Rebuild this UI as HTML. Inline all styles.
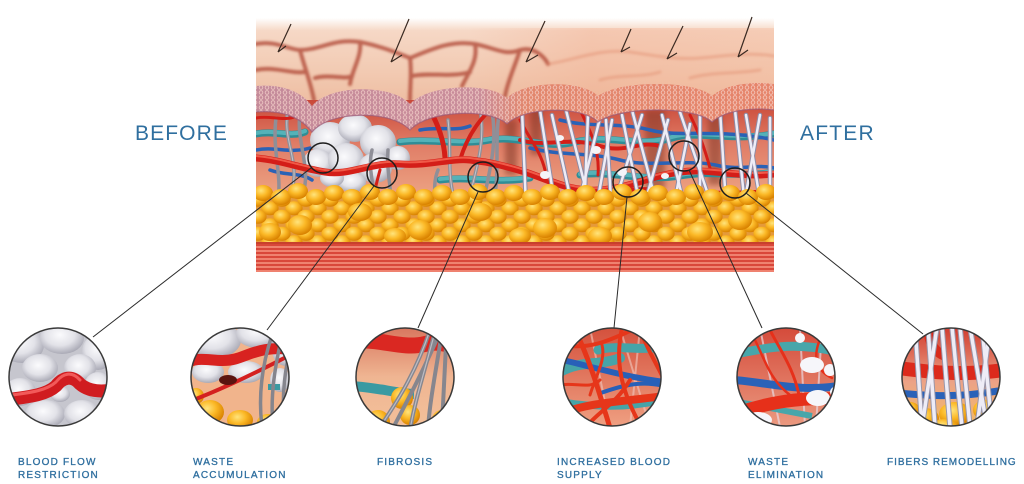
<!DOCTYPE html>
<html><head><meta charset="utf-8">
<style>
html,body{margin:0;padding:0;background:#fff;}
svg{display:block;}
text{font-family:"Liberation Sans",Arial,sans-serif;fill:#2f6f9f;}
</style></head><body>
<svg width="1024" height="484" viewBox="0 0 1024 484" xmlns="http://www.w3.org/2000/svg">
<defs>
<linearGradient id="skin" x1="0" y1="0" x2="0" y2="1">
 <stop offset="0" stop-color="#ffffff"/>
 <stop offset=".14" stop-color="#f6d8c6"/>
 <stop offset=".6" stop-color="#f2cab2"/>
 <stop offset="1" stop-color="#edbb9f"/>
</linearGradient>
<linearGradient id="skinR" gradientUnits="userSpaceOnUse" x1="470" y1="0" x2="774" y2="0">
 <stop offset="0" stop-color="#f2a888" stop-opacity="0"/>
 <stop offset=".4" stop-color="#f2a888" stop-opacity=".35"/>
 <stop offset="1" stop-color="#f4b090" stop-opacity=".3"/>
</linearGradient>
<linearGradient id="derm" x1="0" y1="0" x2="0" y2="1">
 <stop offset="0" stop-color="#c94838"/>
 <stop offset=".3" stop-color="#e07c66"/>
 <stop offset=".65" stop-color="#eca282"/>
 <stop offset="1" stop-color="#f2be98"/>
</linearGradient>
<linearGradient id="band" gradientUnits="userSpaceOnUse" x1="256" y1="0" x2="774" y2="0">
 <stop offset="0" stop-color="#c48a9a"/>
 <stop offset=".43" stop-color="#c98c9a"/>
 <stop offset=".52" stop-color="#e2866c"/>
 <stop offset="1" stop-color="#e6846a"/>
</linearGradient>
<pattern id="cells" width="6" height="5" patternUnits="userSpaceOnUse">
 <circle cx="3" cy="2.5" r="1.8" fill="none" stroke="#f6d4cc" stroke-width=".9"/>
</pattern>
<radialGradient id="fg" cx=".4" cy=".35" r=".65">
 <stop offset="0" stop-color="#ffe47c"/>
 <stop offset=".5" stop-color="#fbb826"/>
 <stop offset="1" stop-color="#d98200"/>
</radialGradient>
<pattern id="fat" width="24" height="17" patternUnits="userSpaceOnUse">
 <rect width="24" height="17" fill="#e59a3a"/>
 <ellipse cx="6" cy="4.25" rx="8.6" ry="7" fill="url(#fg)"/>
 <ellipse cx="30" cy="4.25" rx="8.6" ry="7" fill="url(#fg)"/>
 <ellipse cx="6" cy="21.25" rx="8.6" ry="7" fill="url(#fg)"/>
 <ellipse cx="30" cy="21.25" rx="8.6" ry="7" fill="url(#fg)"/>
 <ellipse cx="18" cy="12.75" rx="8.6" ry="7" fill="url(#fg)"/>
 <ellipse cx="-6" cy="12.75" rx="8.6" ry="7" fill="url(#fg)"/>
 <ellipse cx="18" cy="-4.25" rx="8.6" ry="7" fill="url(#fg)"/>
 <ellipse cx="-6" cy="-4.25" rx="8.6" ry="7" fill="url(#fg)"/>
</pattern>
<pattern id="musc" width="10" height="4" patternUnits="userSpaceOnUse">
 <rect width="10" height="2" fill="#d9473a"/>
 <rect y="2" width="10" height="2" fill="#ef8270"/>
</pattern>
<radialGradient id="bl" cx=".45" cy=".4" r=".62">
 <stop offset="0" stop-color="#fbfbfd"/>
 <stop offset=".55" stop-color="#e2e2e8"/>
 <stop offset="1" stop-color="#a6a6b2"/>
</radialGradient>
<filter id="soft"><feGaussianBlur stdDeviation="1.3"/></filter>
<filter id="soft3"><feGaussianBlur stdDeviation="3"/></filter>
<clipPath id="ill"><rect x="256" y="0" width="518" height="272"/></clipPath>
<clipPath id="c1"><circle cx="58" cy="377" r="49"/></clipPath>
<clipPath id="c2"><circle cx="240" cy="377" r="49"/></clipPath>
<clipPath id="c3"><circle cx="405" cy="377" r="49"/></clipPath>
<clipPath id="c4"><circle cx="612" cy="377" r="49"/></clipPath>
<clipPath id="c5"><circle cx="786" cy="377" r="49"/></clipPath>
<clipPath id="c6"><circle cx="951" cy="377" r="49"/></clipPath>
<linearGradient id="g4" x1="0" y1="0" x2="0" y2="1">
 <stop offset="0" stop-color="#d4503c"/><stop offset="1" stop-color="#efa082"/>
</linearGradient>
<linearGradient id="g5" x1="0" y1="0" x2="0" y2="1">
 <stop offset="0" stop-color="#d44a3a"/><stop offset="1" stop-color="#eb9a80"/>
</linearGradient>
<linearGradient id="g6" x1="0" y1="0" x2="0" y2="1">
 <stop offset="0" stop-color="#d03a2e"/><stop offset=".55" stop-color="#eca286"/><stop offset="1" stop-color="#f2bc68"/>
</linearGradient>
<linearGradient id="g3" x1="0" y1="0" x2="0" y2="1">
 <stop offset="0" stop-color="#d8765e"/><stop offset=".5" stop-color="#efb592"/><stop offset="1" stop-color="#f3c09a"/>
</linearGradient>
</defs>

<rect width="1024" height="484" fill="#fff"/>

<!-- BEFORE / AFTER -->
<text x="135" y="140" font-size="21" letter-spacing="1.1">BEFORE</text>
<text x="800" y="140" font-size="21" letter-spacing="1.2">AFTER</text>

<!-- ========== MAIN ILLUSTRATION ========== -->
<g clip-path="url(#ill)">
 <!-- skin -->
 <rect x="256" y="18" width="518" height="90" fill="url(#skin)"/>
 <rect x="256" y="28" width="518" height="80" fill="url(#skinR)"/>
 <g filter="url(#soft)" fill="none" stroke-linecap="round">
  <g stroke="#b24a38" stroke-width="4" opacity=".8">
   <path d="M256,44 C275,40 290,50 300,50 C320,50 335,38 360,42 C380,46 395,52 410,58 C430,50 450,40 475,44 C495,48 505,56 520,50 C535,46 545,58 548,64"/>
   <path d="M300,50 C304,66 310,80 314,100"/>
   <path d="M360,42 C362,56 352,70 350,84"/>
   <path d="M410,58 C412,72 410,86 410,100"/>
   <path d="M475,44 C478,60 470,70 462,86"/>
   <path d="M520,50 C515,66 508,80 505,96"/>
   <path d="M256,70 C275,66 290,74 305,72"/>
   <path d="M412,76 C430,72 450,78 470,72"/>
   <path d="M315,78 C330,74 345,80 352,76"/>
  </g>
  <g stroke="#e08a6a" stroke-width="3" opacity=".45">
   <path d="M548,64 C575,60 600,48 630,52 C655,56 680,60 700,58 C725,56 750,52 774,56"/>
   <path d="M600,80 C620,74 640,78 660,72"/>
   <path d="M690,78 C710,72 735,74 760,70"/>
  </g>
 </g>
 <!-- hairs -->
 <g stroke="#3a2a22" stroke-width="1.2" fill="none">
  <path d="M291,24 L278,52 M278,52 L286,46"/>
  <path d="M409,19 L391,62 M391,62 L402,55"/>
  <path d="M545,21 L526,62 M526,62 L538,55"/>
  <path d="M631,29 L621,52 M621,52 L630,47"/>
  <path d="M683,26 L667,59 M667,59 L677,53"/>
  <path d="M752,17 L738,57 M738,57 L748,50"/>
 </g>

 <!-- dermis -->
 <rect x="256" y="100" width="518" height="145" fill="url(#derm)"/>
 <!-- hair roots -->
 <g fill="#823828" opacity=".55" filter="url(#soft3)">
  <rect x="505" y="120" width="12" height="55"/>
  <rect x="530" y="105" width="12" height="50"/>
  <rect x="645" y="110" width="20" height="80"/>
  <rect x="708" y="115" width="14" height="70"/>
 </g>

 <!-- cellulite blob -->
 <g fill="url(#bl)">
  <ellipse cx="330" cy="140" rx="20" ry="18"/>
  <ellipse cx="355" cy="128" rx="17" ry="14"/>
  <ellipse cx="378" cy="142" rx="18" ry="17"/>
  <ellipse cx="318" cy="163" rx="15" ry="14"/>
  <ellipse cx="346" cy="160" rx="18" ry="17"/>
  <ellipse cx="375" cy="168" rx="17" ry="15"/>
  <ellipse cx="398" cy="158" rx="12" ry="12"/>
  <ellipse cx="352" cy="182" rx="14" ry="10"/>
  <ellipse cx="332" cy="178" rx="12" ry="9"/>
 </g>

 <!-- teal vessels -->
 <g fill="none" stroke-linecap="round">
  <g stroke="#2f8d96" stroke-width="7">
   <path d="M256,134 C275,130 290,138 305,132"/>
   <path d="M400,142 C430,138 460,146 490,140 C520,135 545,150 575,142 C610,134 640,148 672,138 C700,130 730,142 774,134"/>
   <path d="M440,180 C470,176 500,184 530,178"/>
   <path d="M580,175 C610,170 640,182 680,176 C710,170 740,178 774,172"/>
  </g>
  <g stroke="#55b2b8" stroke-width="4">
   <path d="M256,133 C275,129 290,137 305,131"/>
   <path d="M400,141 C430,137 460,145 490,139 C520,134 545,149 575,141 C610,133 640,147 672,137 C700,129 730,141 774,133"/>
   <path d="M440,179 C470,175 500,183 530,177"/>
   <path d="M580,174 C610,169 640,181 680,175 C710,169 740,177 774,171"/>
  </g>
  <!-- blue -->
  <g stroke="#2a62b6" stroke-width="3.5">
   <path d="M256,150 C275,146 290,154 310,148"/>
   <path d="M420,130 C440,126 455,132 470,126"/>
   <path d="M530,148 C560,156 590,152 620,160 C650,168 690,158 720,166 C740,170 760,164 774,168"/>
   <path d="M560,120 C590,128 620,122 650,130 C680,138 720,128 774,140"/>
   <path d="M600,196 C640,200 690,192 740,200 C755,202 765,198 774,200"/>
   <path d="M270,170 C285,176 300,172 312,180"/>
  </g>
 </g>

 <!-- gray fibers (left / fibrosis) -->
 <g fill="none" stroke="#8f8f98" stroke-width="3.5" stroke-linecap="round">
  <path d="M288,110 C282,140 300,160 292,190 C288,205 298,218 302,228"/>
  <path d="M300,112 C296,140 310,165 304,190 C300,205 306,220 312,232"/>
  <path d="M276,118 C272,150 282,175 278,200 C276,215 282,225 286,235"/>
  <path d="M372,150 C366,175 380,195 372,215 C370,225 376,232 380,238"/>
  <path d="M388,150 C386,175 394,195 390,220"/>
  <path d="M438,170 C430,190 440,205 432,225"/>
  <path d="M448,120 C452,150 446,175 456,205 C460,218 456,228 458,236"/>
  <path d="M480,110 C486,140 476,170 470,195 C466,212 476,225 470,236"/>
  <path d="M492,112 C498,145 488,175 484,200 C480,215 488,228 484,238"/>
  <path d="M500,108 C494,140 500,170 494,200 C490,218 496,230 494,238"/>
 </g>
 <g fill="none" stroke="#c4c4cc" stroke-width="1" stroke-linecap="round">
  <path d="M288,110 C282,140 300,160 292,190 C288,205 298,218 302,228"/>
  <path d="M448,120 C452,150 446,175 456,205 C460,218 456,228 458,236"/>
  <path d="M480,110 C486,140 476,170 470,195 C466,212 476,225 470,236"/>
 </g>

 <!-- red vessels -->
 <g fill="none" stroke-linecap="round">
  <g stroke="#d41e18">
   <path stroke-width="7" d="M256,158 C280,160 300,168 325,172 C350,176 370,162 400,164 C430,166 450,158 470,160 C490,162 505,166 525,172 C550,180 570,192 600,190 C630,188 650,176 680,172 C710,168 740,178 774,174"/>
   <path stroke-width="5" d="M445,158 C444,140 438,125 430,110"/>
   <path stroke-width="4" d="M460,160 C466,140 475,125 488,112"/>
   <path stroke-width="3" d="M256,118 C270,115 285,122 296,116"/>
   <path stroke-width="3" d="M380,170 C376,185 372,198 374,214"/>
   <path stroke-width="4" d="M520,140 C545,148 570,136 600,146 C625,154 640,140 660,146"/>
   <path stroke-width="4" d="M560,212 C590,196 625,186 660,190"/>
   <path stroke-width="3" d="M580,110 C590,130 600,150 598,175"/>
   <path stroke-width="3" d="M690,115 C700,135 705,150 710,168"/>
   <path stroke-width="5" d="M700,196 C720,190 745,196 774,190"/>
   <path stroke-width="3" d="M520,120 C530,140 540,150 545,170"/>
  </g>
  <g stroke="#f05a48" stroke-width="2">
   <path d="M256,156 C280,158 300,166 325,170 C350,174 370,160 400,162 C430,164 450,156 470,158 C490,160 505,164 525,170 C550,178 570,190 600,188 C630,186 650,174 680,170 C710,166 740,176 774,172"/>
  </g>
 </g>

 <!-- white fibers (right) -->
 <g stroke-linecap="round" fill="none">
  <g stroke="#8e8ca6" stroke-width="4.5">
   <path d="M522,110 L526,206"/><path d="M540,110 L556,212"/><path d="M552,115 L574,214"/>
   <path d="M566,110 L590,206"/><path d="M588,115 L584,216"/><path d="M600,118 L576,214"/>
   <path d="M612,120 L596,210"/><path d="M606,120 L612,216"/><path d="M622,115 L642,216"/>
   <path d="M632,110 L656,202"/><path d="M642,115 L612,212"/><path d="M662,115 L686,212"/>
   <path d="M668,120 L642,214"/><path d="M690,124 L672,214"/><path d="M700,110 L700,212"/>
   <path d="M720,110 L726,204"/><path d="M735,110 L746,216"/><path d="M746,115 L762,212"/>
   <path d="M760,115 L742,216"/><path d="M770,118 L770,214"/><path d="M680,112 L712,206"/>
  </g>
  <g stroke="#eeecf6" stroke-width="2.5">
   <path d="M522,110 L526,206"/><path d="M540,110 L556,212"/><path d="M552,115 L574,214"/>
   <path d="M566,110 L590,206"/><path d="M588,115 L584,216"/><path d="M600,118 L576,214"/>
   <path d="M612,120 L596,210"/><path d="M606,120 L612,216"/><path d="M622,115 L642,216"/>
   <path d="M632,110 L656,202"/><path d="M642,115 L612,212"/><path d="M662,115 L686,212"/>
   <path d="M668,120 L642,214"/><path d="M690,124 L672,214"/><path d="M700,110 L700,212"/>
   <path d="M720,110 L726,204"/><path d="M735,110 L746,216"/><path d="M746,115 L762,212"/>
   <path d="M760,115 L742,216"/><path d="M770,118 L770,214"/><path d="M680,112 L712,206"/>
  </g>
 </g>
 <!-- white waste blobs -->
 <g fill="#f4f4f8">
  <ellipse cx="596" cy="150" rx="5" ry="4"/>
  <ellipse cx="622" cy="172" rx="5" ry="4"/>
  <ellipse cx="600" cy="198" rx="6" ry="4"/>
  <ellipse cx="545" cy="175" rx="5" ry="4"/>
  <ellipse cx="665" cy="176" rx="4" ry="3"/>
  <ellipse cx="560" cy="138" rx="4" ry="3"/>
 </g>

 <!-- fat -->
 <rect x="256" y="196" width="518" height="48" fill="url(#fat)"/>
 <g fill="url(#fg)">
  <ellipse cx="263" cy="193" rx="10" ry="8"/><ellipse cx="281" cy="197" rx="10" ry="8"/>
  <ellipse cx="298" cy="191" rx="10" ry="8"/><ellipse cx="316" cy="197" rx="10" ry="8"/>
  <ellipse cx="334" cy="193" rx="10" ry="8"/><ellipse cx="352" cy="197" rx="10" ry="8"/>
  <ellipse cx="370" cy="192" rx="10" ry="8"/><ellipse cx="388" cy="197" rx="10" ry="8"/>
  <ellipse cx="406" cy="192" rx="10" ry="8"/><ellipse cx="424" cy="197" rx="10" ry="8"/>
  <ellipse cx="442" cy="193" rx="10" ry="8"/><ellipse cx="460" cy="197" rx="10" ry="8"/>
  <ellipse cx="478" cy="192" rx="10" ry="8"/><ellipse cx="496" cy="197" rx="10" ry="8"/>
  <ellipse cx="514" cy="193" rx="10" ry="8"/><ellipse cx="532" cy="197" rx="10" ry="8"/>
  <ellipse cx="550" cy="192" rx="10" ry="8"/><ellipse cx="568" cy="197" rx="10" ry="8"/>
  <ellipse cx="586" cy="193" rx="10" ry="8"/><ellipse cx="604" cy="197" rx="10" ry="8"/>
  <ellipse cx="622" cy="192" rx="10" ry="8"/><ellipse cx="640" cy="197" rx="10" ry="8"/>
  <ellipse cx="658" cy="193" rx="10" ry="8"/><ellipse cx="676" cy="197" rx="10" ry="8"/>
  <ellipse cx="694" cy="192" rx="10" ry="8"/><ellipse cx="712" cy="197" rx="10" ry="8"/>
  <ellipse cx="730" cy="193" rx="10" ry="8"/><ellipse cx="748" cy="197" rx="10" ry="8"/>
  <ellipse cx="766" cy="192" rx="10" ry="8"/>
  <ellipse cx="300" cy="225" rx="12" ry="10"/><ellipse cx="420" cy="230" rx="12" ry="10"/>
  <ellipse cx="545" cy="228" rx="12" ry="10"/><ellipse cx="650" cy="222" rx="12" ry="10"/>
  <ellipse cx="700" cy="232" rx="13" ry="10"/><ellipse cx="480" cy="212" rx="12" ry="9"/>
  <ellipse cx="360" cy="212" rx="12" ry="9"/><ellipse cx="600" cy="236" rx="12" ry="9"/>
  <ellipse cx="270" cy="232" rx="11" ry="9"/><ellipse cx="740" cy="220" rx="12" ry="10"/>
  <ellipse cx="520" cy="236" rx="11" ry="8"/><ellipse cx="395" cy="236" rx="11" ry="8"/>
 </g>

 <!-- muscle -->
 <rect x="256" y="243" width="518" height="29" fill="url(#musc)"/>
 <rect x="256" y="242" width="518" height="2" fill="#c8402e"/>

 <!-- epidermis band -->
 <path d="M256,86 C280,84 300,90 312,106 C330,84 392,84 410,104 C428,84 490,82 507,98 C525,80 583,80 598,96 C620,80 695,80 712,96 C728,82 760,82 774,84 L774,110 C760,108 728,108 712,122 C695,106 620,106 598,122 C583,106 525,106 507,124 C490,108 428,110 410,130 C392,110 330,110 312,132 C300,116 280,110 256,112 Z" fill="url(#band)"/>
 <path d="M256,86 C280,84 300,90 312,106 C330,84 392,84 410,104 C428,84 490,82 507,98 C525,80 583,80 598,96 C620,80 695,80 712,96 C728,82 760,82 774,84 L774,110 C760,108 728,108 712,122 C695,106 620,106 598,122 C583,106 525,106 507,124 C490,108 428,110 410,130 C392,110 330,110 312,132 C300,116 280,110 256,112 Z" fill="url(#cells)" opacity=".8"/>
 <path d="M774,110 C760,108 728,108 712,122 C695,106 620,106 598,122 C583,106 525,106 507,124 C490,108 428,110 410,130 C392,110 330,110 312,132 C300,116 280,110 256,112" fill="none" stroke="#9a5a78" stroke-width="1.2" opacity=".7"/>

 <!-- small inspection circles -->
 <g fill="none" stroke="#1e1e1e" stroke-width="1.5">
  <circle cx="323" cy="158" r="15"/>
  <circle cx="382" cy="173" r="15"/>
  <circle cx="483" cy="177" r="15"/>
  <circle cx="628" cy="182" r="15"/>
  <circle cx="684" cy="156" r="15"/>
  <circle cx="735" cy="183" r="15"/>
 </g>
</g>

<!-- connector lines -->
<g stroke="#2a2a2a" stroke-width="1" fill="none">
 <line x1="311" y1="168" x2="93" y2="337"/>
 <line x1="374" y1="186" x2="267" y2="330"/>
 <line x1="478" y1="192" x2="418" y2="328"/>
 <line x1="627" y1="197" x2="614" y2="328"/>
 <line x1="689" y1="170" x2="762" y2="328"/>
 <line x1="746" y1="193" x2="923" y2="334"/>
</g>

<!-- ========== DETAIL CIRCLES ========== -->
<!-- 1 blood flow restriction -->
<g clip-path="url(#c1)">
 <rect x="8" y="327" width="100" height="100" fill="#c6c6ce"/>
 <g fill="url(#bl)">
  <ellipse cx="22" cy="345" rx="22" ry="18"/><ellipse cx="62" cy="338" rx="22" ry="16"/>
  <ellipse cx="98" cy="352" rx="16" ry="18"/><ellipse cx="40" cy="368" rx="18" ry="14"/>
  <ellipse cx="80" cy="368" rx="16" ry="14"/><ellipse cx="20" cy="392" rx="16" ry="14"/>
  <ellipse cx="98" cy="386" rx="14" ry="14"/><ellipse cx="45" cy="414" rx="20" ry="14"/>
  <ellipse cx="82" cy="414" rx="18" ry="14"/><ellipse cx="60" cy="394" rx="10" ry="8"/>
 </g>
 <path d="M5,400 C25,397 45,396 56,386 C63,377 72,375 80,384 C88,391 100,392 112,390" fill="none" stroke="#d01c20" stroke-width="13" stroke-linecap="round"/>
 <path d="M5,396 C25,393 45,392 56,382 C63,373 72,371 80,380" fill="none" stroke="#f25a5a" stroke-width="3" stroke-linecap="round"/>
</g>
<circle cx="58" cy="377" r="49" fill="none" stroke="#3a3a3a" stroke-width="1.5"/>

<!-- 2 waste accumulation -->
<g clip-path="url(#c2)">
 <rect x="190" y="327" width="100" height="100" fill="#f1b48c"/>
 <g fill="url(#bl)">
  <ellipse cx="215" cy="340" rx="26" ry="18"/><ellipse cx="258" cy="334" rx="22" ry="14"/>
  <ellipse cx="286" cy="350" rx="14" ry="16"/><ellipse cx="208" cy="372" rx="16" ry="11"/>
  <ellipse cx="246" cy="372" rx="18" ry="11"/><ellipse cx="280" cy="380" rx="10" ry="12"/>
 </g>
 <g fill="url(#fg)">
  <ellipse cx="210" cy="412" rx="14" ry="12"/><ellipse cx="240" cy="420" rx="13" ry="10"/>
  <ellipse cx="268" cy="422" rx="11" ry="8"/><ellipse cx="196" cy="396" rx="8" ry="8"/>
 </g>
 <path d="M185,364 C200,354 215,364 235,359 C250,355 262,345 296,350" fill="none" stroke="#d82220" stroke-width="11" stroke-linecap="round"/>
 <path d="M188,402 C215,392 250,376 296,352" fill="none" stroke="#d42020" stroke-width="4"/>
 <ellipse cx="228" cy="380" rx="9" ry="5" fill="#5a1410"/>
 <rect x="268" y="384" width="12" height="6" fill="#3a9aa2"/>
 <g fill="none" stroke="#85858d" stroke-width="3.5">
  <path d="M262,427 C258,395 262,365 272,335"/>
  <path d="M273,427 C270,395 275,365 283,332"/>
  <path d="M284,420 C282,395 285,370 290,350"/>
 </g>
</g>
<circle cx="240" cy="377" r="49" fill="none" stroke="#3a3a3a" stroke-width="1.5"/>

<!-- 3 fibrosis -->
<g clip-path="url(#c3)">
 <rect x="355" y="327" width="100" height="100" fill="url(#g3)"/>
 <path d="M350,342 C375,336 400,350 425,344 C440,340 452,345 462,352" fill="none" stroke="#da2822" stroke-width="16"/>
 <path d="M350,386 C375,387 395,393 414,394" fill="none" stroke="#3a9aa2" stroke-width="10"/>
 <g fill="url(#fg)">
  <circle cx="402" cy="398" r="11"/><circle cx="410" cy="415" r="10"/>
  <circle cx="378" cy="422" r="12"/><circle cx="442" cy="420" r="10"/>
 </g>
 <g fill="none" stroke="#86868e" stroke-width="4">
  <path d="M378,430 C395,405 415,375 430,330"/>
  <path d="M392,430 C405,405 423,372 440,332"/>
  <path d="M410,430 C415,400 425,370 436,328"/>
  <path d="M428,428 C430,400 436,370 442,332"/>
  <path d="M442,425 L446,345"/>
 </g>
 <g fill="none" stroke="#bcbcc4" stroke-width="1.2">
  <path d="M378,430 C395,405 415,375 430,330"/>
  <path d="M410,430 C415,400 425,370 436,328"/>
 </g>
</g>
<circle cx="405" cy="377" r="49" fill="none" stroke="#3a3a3a" stroke-width="1.5"/>

<!-- 4 increased blood supply -->
<g clip-path="url(#c4)">
 <rect x="562" y="327" width="100" height="100" fill="url(#g4)"/>
 <g fill="none" stroke="#f0c8c0" stroke-width="2" opacity=".6">
  <path d="M590,328 L610,427"/><path d="M640,328 L630,427"/><path d="M620,328 L650,427"/>
 </g>
 <g fill="none" stroke="#46a4a8" stroke-linecap="round">
  <path stroke-width="10" d="M560,372 C580,360 600,366 620,358"/>
  <path stroke-width="9" d="M598,350 C620,344 640,352 664,346"/>
  <path stroke-width="7" d="M562,402 C590,406 620,410 664,400"/>
 </g>
 <g fill="none" stroke="#2860b8">
  <path stroke-width="6" d="M562,360 C590,366 620,376 664,382"/>
  <path stroke-width="4" d="M598,394 C620,386 640,380 664,386"/>
 </g>
 <g fill="none" stroke="#e6361a" stroke-linecap="round">
  <path stroke-width="4" d="M562,345 C590,350 610,340 632,330"/>
  <path stroke-width="5" d="M575,330 C590,360 600,395 610,428"/>
  <path stroke-width="4" d="M622,328 C615,360 620,390 642,428"/>
  <path stroke-width="8" d="M560,414 C590,402 620,402 664,396"/>
  <path stroke-width="4" d="M640,330 C650,355 660,370 664,380"/>
  <path stroke-width="4" d="M585,428 C600,410 615,405 630,380"/>
  <path stroke-width="3" d="M602,345 C606,360 596,375 590,395"/>
  <path stroke-width="3" d="M560,385 C575,382 590,390 600,380"/>
 </g>
</g>
<circle cx="612" cy="377" r="49" fill="none" stroke="#3a3a3a" stroke-width="1.5"/>

<!-- 5 waste elimination -->
<g clip-path="url(#c5)">
 <rect x="736" y="327" width="100" height="100" fill="url(#g5)"/>
 <g fill="none" stroke="#e8d8e0" stroke-width="2" opacity=".7">
  <path d="M760,328 L780,427"/><path d="M800,328 L805,427"/><path d="M822,328 L816,427"/>
 </g>
 <path d="M734,354 C760,350 790,340 838,352" fill="none" stroke="#48a6aa" stroke-width="9"/>
 <path d="M734,380 C770,383 800,392 838,386" fill="none" stroke="#2a62b8" stroke-width="8"/>
 <path d="M738,402 C760,406 780,410 812,416" fill="none" stroke="#48a6aa" stroke-width="6"/>
 <g fill="none" stroke="#e6301a" stroke-linecap="round">
  <path stroke-width="3" d="M770,330 C780,350 795,370 800,400"/>
  <path stroke-width="2.5" d="M755,340 C765,360 770,380 790,395"/>
  <path stroke-width="2.5" d="M822,335 C812,355 815,370 832,378"/>
  <path stroke-width="13" d="M734,414 C770,402 800,397 838,399"/>
 </g>
 <g fill="#f6f6fa">
  <ellipse cx="812" cy="365" rx="12" ry="8"/><ellipse cx="830" cy="370" rx="6" ry="6"/>
  <ellipse cx="818" cy="398" rx="12" ry="8"/><ellipse cx="838" cy="392" rx="8" ry="6"/>
  <ellipse cx="758" cy="420" rx="14" ry="8"/><ellipse cx="800" cy="338" rx="5" ry="5"/>
 </g>
</g>
<circle cx="786" cy="377" r="49" fill="none" stroke="#3a3a3a" stroke-width="1.5"/>

<!-- 6 fibers remodelling -->
<g clip-path="url(#c6)">
 <rect x="901" y="327" width="100" height="100" fill="url(#g6)"/>
 <path d="M928,330 C930,345 935,352 945,356" fill="none" stroke="#d82a1c" stroke-width="10"/>
 <path d="M898,368 C930,372 960,376 1004,370" fill="none" stroke="#dc2a1c" stroke-width="14"/>
 <path d="M898,393 C930,396 960,398 1004,390" fill="none" stroke="#2a62b8" stroke-width="7"/>
 <g fill="url(#fg)">
  <ellipse cx="925" cy="418" rx="14" ry="10"/><ellipse cx="955" cy="414" rx="16" ry="12"/>
  <ellipse cx="985" cy="410" rx="12" ry="10"/><ellipse cx="945" cy="427" rx="14" ry="8"/>
  <ellipse cx="910" cy="410" rx="10" ry="8"/>
 </g>
 <g fill="none" stroke="#9896aa" stroke-width="5.5">
  <path d="M915,327 L922,427"/><path d="M928,327 L935,427"/><path d="M942,327 L950,427"/>
  <path d="M952,327 L962,427"/><path d="M960,327 L970,427"/><path d="M970,327 L987,427"/>
  <path d="M982,327 L992,427"/><path d="M990,327 L977,427"/><path d="M937,327 L922,427"/>
 </g>
 <g fill="none" stroke="#eeecf6" stroke-width="3.5">
  <path d="M915,327 L922,427"/><path d="M928,327 L935,427"/><path d="M942,327 L950,427"/>
  <path d="M952,327 L962,427"/><path d="M960,327 L970,427"/><path d="M970,327 L987,427"/>
  <path d="M982,327 L992,427"/><path d="M990,327 L977,427"/><path d="M937,327 L922,427"/>
 </g>
</g>
<circle cx="951" cy="377" r="49" fill="none" stroke="#3a3a3a" stroke-width="1.5"/>

<!-- labels -->
<g font-size="10" letter-spacing="1.2" stroke="#2f6f9f" stroke-width="0.3">
 <text x="18" y="465">BLOOD FLOW</text>
 <text x="18" y="478">RESTRICTION</text>
 <text x="193" y="465">WASTE</text>
 <text x="193" y="478">ACCUMULATION</text>
 <text x="377" y="465">FIBROSIS</text>
 <text x="557" y="465">INCREASED BLOOD</text>
 <text x="557" y="478">SUPPLY</text>
 <text x="748" y="465">WASTE</text>
 <text x="748" y="478">ELIMINATION</text>
 <text x="887" y="465" letter-spacing="1">FIBERS REMODELLING</text>
</g>
</svg>
</body></html>
